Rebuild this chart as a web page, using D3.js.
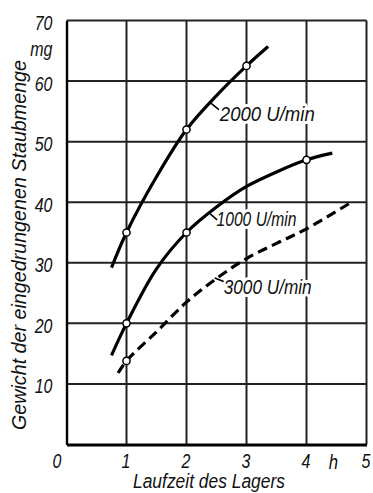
<!DOCTYPE html>
<html><head><meta charset="utf-8">
<script src="https://cdn.jsdelivr.net/npm/d3@7"></script>
<style>body{margin:0;background:#fff}svg{display:block}</style>
</head><body><svg id="c" width="373" height="493"></svg>
<script>
// ---- data ----
const xTicks = [0, 1, 2, 3, 4, 5];
const yTicks = [10, 20, 30, 40, 50, 60, 70];
const xUnit = "h";
const yUnit = "mg";
const xTitle = "Laufzeit des Lagers";
const yTitle = "Gewicht der eingedrungenen Staubmenge";
const seriesNames = ["2000 U/min", "1000 U/min", "3000 U/min"];
const s2000X = [0.75, 1, 1.5, 2, 2.5, 3, 3.36];
const s2000Y = [29.2, 35, 44.2, 52, 57.6, 62.5, 65.7];
const s1000X = [0.75, 1, 1.5, 2, 2.5, 3, 3.5, 4, 4.43];
const s1000Y = [14.7, 20, 29, 35, 39.2, 42.6, 45, 47, 48.1];
const s3000X = [0.86, 1, 1.5, 2, 2.5, 3, 3.5, 4, 4.78];
const s3000Y = [11.8, 13.8, 18.6, 23.5, 27.4, 30.7, 33.2, 35.6, 40.2];
const m2000X = [1, 2, 3], m2000Y = [35, 52, 62.5];
const m1000X = [1, 2, 4], m1000Y = [20, 35, 47];
const m3000X = [1], m3000Y = [13.8];

// ---- chart ----
const svg = d3.select("#c");
const x = d3.scaleLinear().domain([0, 5]).range([66.5, 366.5]);
const y = d3.scaleLinear().domain([0, 70]).range([444.5, 20.5]);
const FONT = "'Liberation Sans', Arial, sans-serif";

function condense(sel, f) {
  sel.each(function () {
    const w = this.getComputedTextLength();
    d3.select(this).attr("textLength", w * f).attr("lengthAdjust", "spacingAndGlyphs");
  });
}

// grid: one path built with d3.path through the scales
const gp = d3.path();
xTicks.filter(d => d > 0).forEach(d => { gp.moveTo(x(d), y(0)); gp.lineTo(x(d), y(70)); });
yTicks.forEach(d => { gp.moveTo(x(0), y(d)); gp.lineTo(x(5), y(d)); });
svg.append("path").attr("d", gp.toString())
  .attr("fill", "none").attr("stroke", "#222").attr("stroke-width", 2);

// axes (lines drawn by d3 axes, labels restyled)
const yAxis = svg.append("g").attr("transform", `translate(${x(0)},0)`)
  .call(d3.axisLeft(y).tickValues(yTicks).tickSize(0).tickSizeOuter(0).tickPadding(14).tickFormat(d3.format("d")));
yAxis.select(".domain").attr("stroke", "#000").attr("stroke-width", 2.4);
yAxis.selectAll("text").attr("font-family", FONT).attr("font-style", "italic")
  .attr("font-size", 20).attr("fill", "#111").attr("dy", "0.45em");

const xAxis = svg.append("g").attr("transform", `translate(0,${y(0)})`)
  .call(d3.axisBottom(x).tickValues(xTicks).tickSize(0).tickSizeOuter(0).tickPadding(9).tickFormat(d3.format("d")));
xAxis.select(".domain").attr("stroke", "#000").attr("stroke-width", 2.8);
xAxis.selectAll("text").attr("font-family", FONT).attr("font-style", "italic")
  .attr("font-size", 20).attr("fill", "#111")
  .attr("dx", d => d === 0 ? -10 : -1);

// units
svg.append("text").text(yUnit).attr("x", x(0) - 14).attr("y", y(65) + 5)
  .attr("text-anchor", "end").attr("font-family", FONT).attr("font-style", "italic")
  .attr("font-size", 20).attr("fill", "#111");
svg.append("text").text(xUnit).attr("x", x(4.45)).attr("y", y(0) + 24)
  .attr("text-anchor", "middle").attr("font-family", FONT).attr("font-style", "italic")
  .attr("font-size", 21).attr("fill", "#111");

svg.selectAll("text").call(condense, 0.8);

// titles
svg.append("text").text(xTitle)
  .attr("x", 209).attr("y", 488).attr("text-anchor", "middle")
  .attr("font-family", FONT).attr("font-style", "italic").attr("font-size", 20).attr("fill", "#111")
  .attr("textLength", 152).attr("lengthAdjust", "spacingAndGlyphs");
svg.append("text").text(yTitle)
  .attr("transform", "translate(26,245) rotate(-90)").attr("text-anchor", "middle")
  .attr("font-family", FONT).attr("font-style", "italic").attr("font-size", 20).attr("fill", "#111")
  .attr("textLength", 370).attr("lengthAdjust", "spacingAndGlyphs");

// series labels (white halo breaks the grid behind them)
const labels = [
  { name: seriesNames[0], lx: 2.555, ly: 54.6, w: 95, ax: 2.39, ay: 56.5, bx: 2.54, by: 55.3 },
  { name: seriesNames[1], lx: 2.5, ly: 37.2, w: 80, ax: 2.39, ay: 38.1, bx: 2.51, by: 37.1 },
  { name: seriesNames[2], lx: 2.62, ly: 26, w: 88, ax: 2.47, ay: 27.5, bx: 2.62, by: 26.9 }
];
labels.forEach(l => {
  svg.append("text").text(l.name)
    .attr("x", x(l.lx)).attr("y", y(l.ly)).attr("dy", "0.36em")
    .attr("font-family", FONT).attr("font-style", "italic").attr("font-size", 20)
    .attr("textLength", l.w).attr("lengthAdjust", "spacingAndGlyphs")
    .attr("fill", "none").attr("stroke", "#fff").attr("stroke-width", 6).attr("stroke-linejoin", "round");
});

// curves
const curveGen = d3.line().x(d => x(d[0])).y(d => y(d[1])).curve(d3.curveCatmullRom.alpha(0.5));
const series = [
  { xs: s2000X, ys: s2000Y, dash: null },
  { xs: s1000X, ys: s1000Y, dash: null },
  { xs: s3000X, ys: s3000Y, dash: "10,5.5" }
];
series.forEach(s => {
  svg.append("path").datum(s.xs.map((v, i) => [v, s.ys[i]]))
    .attr("d", curveGen).attr("fill", "none").attr("stroke", "#000")
    .attr("stroke-width", 3.2).attr("stroke-dasharray", s.dash);
});

const lp = d3.path();
labels.forEach(l => { lp.moveTo(x(l.ax), y(l.ay)); lp.lineTo(x(l.bx), y(l.by)); });
svg.append("path").attr("d", lp.toString())
  .attr("fill", "none").attr("stroke", "#000").attr("stroke-width", 1.6);
labels.forEach(l => {
  svg.append("text").text(l.name)
    .attr("x", x(l.lx)).attr("y", y(l.ly)).attr("dy", "0.36em")
    .attr("font-family", FONT).attr("font-style", "italic").attr("font-size", 20).attr("fill", "#111")
    .attr("textLength", l.w).attr("lengthAdjust", "spacingAndGlyphs");
});

// markers
const marks = [[m2000X, m2000Y], [m1000X, m1000Y], [m3000X, m3000Y]];
marks.forEach(([xs, ys]) => {
  svg.append("g").selectAll("circle").data(xs.map((v, i) => [v, ys[i]])).join("circle")
    .attr("cx", d => x(d[0])).attr("cy", d => y(d[1])).attr("r", 3.6)
    .attr("fill", "#fff").attr("stroke", "#000").attr("stroke-width", 1.5);
});
</script></body></html>
